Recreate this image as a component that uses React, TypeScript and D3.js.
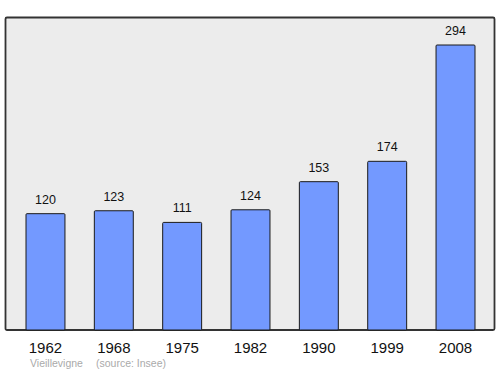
import React from "react";
import * as d3 from "d3";

const years = ["1962", "1968", "1975", "1982", "1990", "1999", "2008"];
const population = [120, 123, 111, 124, 153, 174, 294];
const placeName = "Vieillevigne";
const sourceName = "(source: Insee)";

export default function App() {
  const W = 500, H = 374;
  const x = d3.scaleBand<string>().domain(years).range([26, 475]).paddingInner(0.43).paddingOuter(0);
  const y = d3.scaleLinear().domain([0, 294]).range([330, 45]);
  return (
    <svg width={W} height={H} style={{ position: "absolute", left: 0, top: 0 }} fontFamily="'Liberation Sans', Arial, sans-serif">
      <rect x={5.5} y={17.5} width={489} height={312.5} fill="#ececec" stroke="#333" strokeWidth={1.8} rx={1.5} />
      {years.map((yr, i) => {
        const bx = x(yr)!;
        const bw = x.bandwidth();
        const v = population[i];
        return (
          <g key={yr}>
            <rect x={bx} y={y(v)} width={bw} height={330 - y(v)} fill="#7399ff" stroke="#1a1a1a" strokeWidth={1} rx={1} />
            <text x={bx + bw / 2} y={y(v) - 10} textAnchor="middle" fontSize={12.5} fill="#111">{v}</text>
            <text x={bx + bw / 2} y={353} textAnchor="middle" fontSize={15} fill="#111">{yr}</text>
          </g>
        );
      })}
      <text x={30} y={367} fontSize={10.5} fill="#aaa">{placeName}</text>
      <text x={96} y={367} fontSize={10.5} fill="#aaa">{sourceName}</text>
    </svg>
  );
}
